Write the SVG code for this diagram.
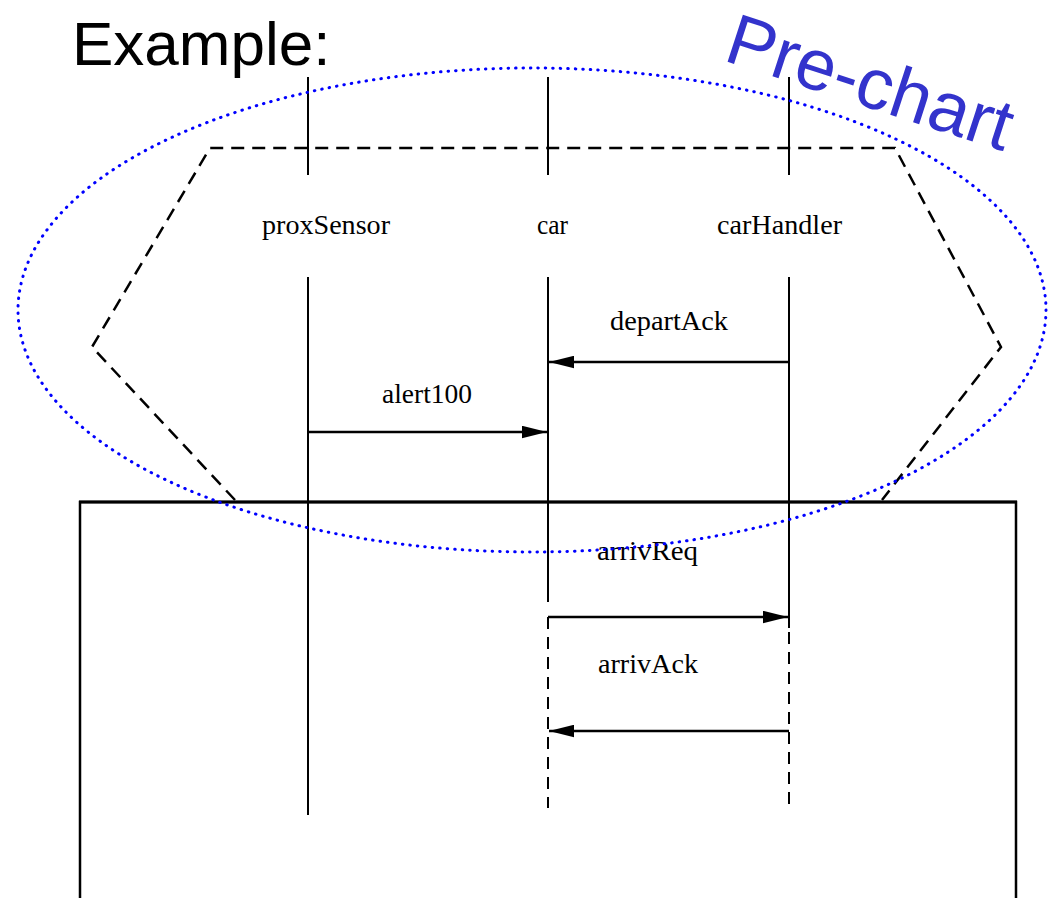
<svg xmlns="http://www.w3.org/2000/svg" width="1048" height="898" viewBox="0 0 1048 898">
<defs>
<style>
.lbl{font-family:"Liberation Serif","Times New Roman",serif;font-size:28px;fill:#000}
.life{stroke:#000;stroke-width:2;fill:none}
.dlife{stroke:#000;stroke-width:2;fill:none;stroke-dasharray:12 8}
.msg{stroke:#000;stroke-width:2.5;fill:none;marker-end:url(#ah)}
.hex{stroke:#000;stroke-width:2.5;fill:none;stroke-dasharray:13 8}
</style>
<marker id="ah" viewBox="0 0 24 12" refX="24" refY="6" markerWidth="25" markerHeight="13" markerUnits="userSpaceOnUse" orient="auto">
<path d="M0,0 L24,6 L0,12 z" fill="#000"/>
</marker>
</defs>
<rect width="1048" height="898" fill="#fff"/>
<text x="72" y="65" font-family="Liberation Sans, Arial, sans-serif" font-size="62" fill="#000">Example:</text>
<g id="mainchart">
<path d="M80,898 L80,502 L1016,502 L1016,898" fill="none" stroke="#000" stroke-width="2.5"/>
<line x1="79" y1="502" x2="1017" y2="502" stroke="#000" stroke-width="3"/>
</g>
<g id="prechart-hex">
<polyline class="hex" points="235,500 92,347 210,148 895,148 1001,347 882,500"/>
</g>
<g id="proxSensor">
<line class="life" x1="308" y1="77" x2="308" y2="175"/>
<text class="lbl" x="262" y="234" textLength="128" lengthAdjust="spacingAndGlyphs">proxSensor</text>
<line class="life" x1="308" y1="277" x2="308" y2="815" stroke-width="2.5"/>
</g>
<g id="car">
<line class="life" x1="548" y1="77" x2="548" y2="175"/>
<text class="lbl" x="537" y="234" textLength="31" lengthAdjust="spacingAndGlyphs">car</text>
<line class="life" x1="548" y1="277" x2="548" y2="602"/>
<line class="dlife" x1="548" y1="617" x2="548" y2="808"/>
</g>
<g id="carHandler">
<line class="life" x1="789" y1="77" x2="789" y2="175"/>
<text class="lbl" x="717" y="234" textLength="125" lengthAdjust="spacingAndGlyphs">carHandler</text>
<line class="life" x1="789" y1="277" x2="789" y2="628"/>
<line class="dlife" x1="789" y1="632" x2="789" y2="810"/>
</g>
<g id="connectors">
<line class="msg" x1="789" y1="362" x2="549" y2="362"/>
<text class="lbl" x="610" y="330" textLength="118" lengthAdjust="spacingAndGlyphs">departAck</text>
<line class="msg" x1="308" y1="432" x2="547" y2="432"/>
<text class="lbl" x="382" y="403" textLength="90" lengthAdjust="spacingAndGlyphs">alert100</text>
<line class="msg" x1="548" y1="617" x2="788" y2="617" stroke-width="3.5"/>
<text class="lbl" x="597" y="560" textLength="101" lengthAdjust="spacingAndGlyphs">arrivReq</text>
<line class="msg" x1="789" y1="731" x2="549" y2="731"/>
<text class="lbl" x="598" y="673" textLength="100" lengthAdjust="spacingAndGlyphs">arrivAck</text>
</g>
<g id="prechart-ellipse">
<ellipse cx="532" cy="310" rx="514" ry="242" fill="none" stroke="#0000ff" stroke-width="3" stroke-linecap="round" stroke-dasharray="0.5 7"/>
<text transform="translate(722,60) rotate(18)" font-family="Liberation Sans, Arial, sans-serif" font-size="72" fill="#3333cc">Pre-chart</text>
</g>
</svg>
